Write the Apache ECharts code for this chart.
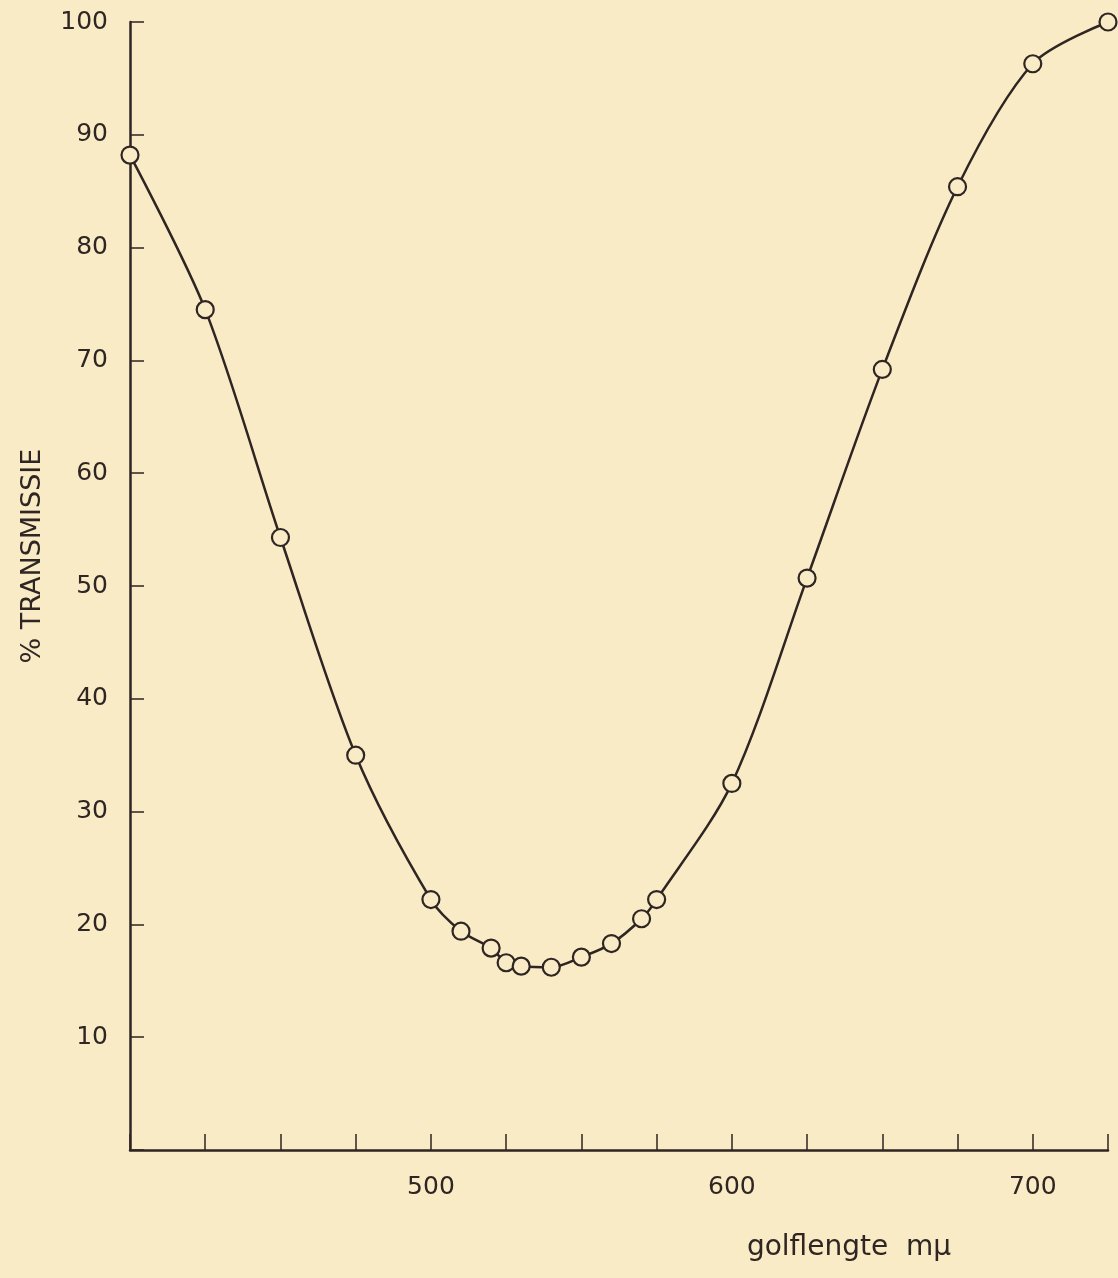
<!DOCTYPE html>
<html>
<head>
<meta charset="utf-8">
<script src="https://cdn.jsdelivr.net/npm/echarts@6/dist/echarts.min.js"></script>
<style>
	html, body { margin: 0; padding: 0; background: #f8ebc5; }
	#chart { width: 1118px; height: 1278px; }
</style>
</head>
<body>
<div id="chart"></div>
<script>
/* golflengte (mµ) */
const golflengte = [400, 425, 450, 475, 500, 510, 520, 525, 530, 540, 550, 560, 570, 575, 600, 625, 650, 675, 700, 725];
/* % transmissie */
const transmissie = [88.2, 74.5, 54.3, 35.0, 22.2, 19.4, 17.9, 16.6, 16.3, 16.2, 17.1, 18.3, 20.5, 22.2, 32.5, 50.7, 69.2, 85.4, 96.3, 100];
/* tick labels */
const xTickLabels = ['500', '600', '700'];
const yTickLabels = ['10', '20', '30', '40', '50', '60', '70', '80', '90', '100'];

document.addEventListener('DOMContentLoaded', () => {
	const ink = '#2f2522';
	const paper = '#f8ebc5';
	const font = 'DejaVu Sans';
	const chart = echarts.init(document.querySelector('#chart'));
	chart.setOption({
		backgroundColor: paper,
		animation: false,
		grid: {
			left: 130,
			right: 10,
			top: 22,
			bottom: 128
		},
		xAxis: {
			type: 'value',
			min: 400,
			max: 725,
			interval: 25,
			name: 'golflengte  mµ',
			nameLocation: 'middle',
			nameGap: 84,
			nameTextStyle: {
				color: ink,
				fontFamily: font,
				fontSize: 28,
				padding: [0, 0, 0, 460]
			},
			splitLine: { show: false },
			axisLine: { lineStyle: { color: ink, width: 2.5 } },
			axisTick: { inside: true, length: 16, lineStyle: { color: ink, width: 1.5 } },
			axisLabel: {
				color: ink,
				fontFamily: font,
				fontSize: 25,
				margin: 25,
				formatter: v => xTickLabels.includes(String(v)) ? String(v) : ''
			}
		},
		yAxis: {
			type: 'value',
			min: 0,
			max: 100,
			interval: 10,
			name: '% TRANSMISSIE',
			nameLocation: 'middle',
			nameRotate: 90,
			nameGap: 84,
			nameTextStyle: {
				color: ink,
				fontFamily: font,
				fontSize: 27,
				padding: [0, 0, 0, 60]
			},
			splitLine: { show: false },
			axisLine: { lineStyle: { color: ink, width: 2.5 } },
			axisTick: { inside: true, length: 14, lineStyle: { color: ink, width: 1.5 } },
			axisLabel: {
				color: ink,
				fontFamily: font,
				fontSize: 25,
				margin: 22,
				formatter: v => yTickLabels.includes(String(v)) ? String(v) : ''
			}
		},
		series: [
			{
				type: 'line',
				data: golflengte.map((x, i) => [x, transmissie[i]]),
				smooth: 0.3,
				clip: false,
				symbol: 'circle',
				symbolSize: 17,
				lineStyle: { color: ink, width: 2.5 },
				itemStyle: { color: paper, borderColor: ink, borderWidth: 2.2 }
			}
		]
	});
});
</script>
</body>
</html>
